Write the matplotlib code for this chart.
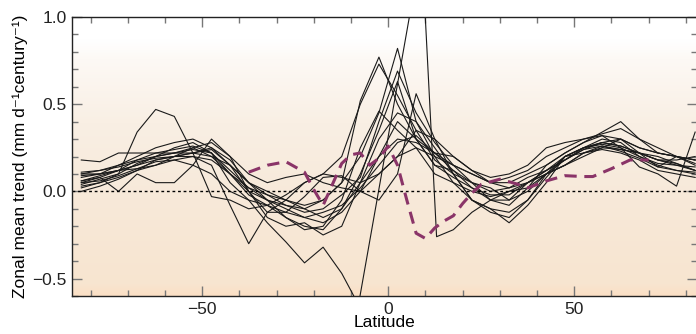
import numpy as np
import matplotlib
matplotlib.use('Agg')
import matplotlib.pyplot as plt
from matplotlib.colors import LinearSegmentedColormap
from matplotlib.ticker import MultipleLocator

plt.rcParams['font.family'] = ['Liberation Sans', 'DejaVu Sans']

# common 5 degree grid used by most models
lats = np.arange(-82.5, 83, 5)

models = [
    [0.03, 0.05, 0.10, 0.34, 0.47, 0.43, 0.22, -0.03, -0.05, -0.10, -0.08, -0.02, 0.05, 0.10, 0.20, 0.50, 0.73, 0.55, 0.35, 0.18, 0.10, 0.05, 0.02, -0.05, 0.00, 0.10, 0.15, 0.20, 0.25, 0.30, 0.25, 0.22, 0.20, 0.18],
    [0.18, 0.17, 0.22, 0.22, 0.22, 0.22, 0.22, 0.20, 0.15, 0.05, -0.05, -0.08, -0.10, -0.05, 0.05, 0.20, 0.45, 0.82, 0.40, 0.20, 0.15, 0.10, 0.05, 0.08, 0.12, 0.20, 0.25, 0.30, 0.33, 0.36, 0.30, 0.22, 0.20, 0.18],
    [0.05, 0.08, 0.00, 0.10, 0.05, 0.05, 0.15, 0.30, 0.20, 0.00, -0.12, -0.12, -0.03, 0.08, 0.09, 0.00, -0.05, 0.10, 0.56, 0.30, 0.10, -0.05, -0.10, -0.18, -0.08, 0.05, 0.20, 0.25, 0.28, 0.30, 0.22, 0.14, 0.20, 0.16],
    [0.08, 0.10, 0.15, 0.20, 0.25, 0.28, 0.30, 0.25, 0.15, 0.05, 0.00, -0.05, -0.08, -0.05, 0.05, 0.52, 0.77, 0.50, 0.30, 0.22, 0.15, 0.10, 0.05, 0.05, 0.10, 0.15, 0.22, 0.28, 0.34, 0.40, 0.30, 0.25, 0.20, 0.15],
    [0.06, 0.08, 0.12, 0.18, 0.22, 0.24, 0.26, 0.22, 0.10, -0.02, -0.08, -0.15, -0.20, -0.22, -0.10, 0.10, 0.35, 0.63, 0.30, 0.15, 0.12, 0.05, -0.05, -0.05, 0.05, 0.12, 0.18, 0.24, 0.28, 0.26, 0.22, 0.18, 0.18, 0.20],
    [0.02, 0.05, 0.08, 0.12, 0.15, 0.18, 0.20, 0.15, -0.08, -0.30, -0.12, -0.05, 0.05, 0.10, 0.08, 0.05, 0.10, 0.20, 0.25, 0.20, 0.05, -0.05, -0.10, -0.12, -0.05, 0.08, 0.20, 0.25, 0.30, 0.28, 0.20, 0.15, 0.12, 0.10],
    [0.10, 0.12, 0.15, 0.18, 0.20, 0.22, 0.24, 0.22, 0.12, 0.02, -0.02, -0.05, -0.10, -0.15, -0.10, 0.05, 0.20, 0.30, 0.28, 0.22, 0.20, 0.12, 0.05, 0.02, 0.08, 0.12, 0.18, 0.25, 0.27, 0.25, 0.20, 0.16, 0.15, 0.14],
    [0.04, 0.07, 0.10, 0.16, 0.20, 0.22, 0.25, 0.20, 0.10, 0.00, -0.05, -0.15, -0.22, -0.20, -0.05, 0.25, 0.46, 0.35, 0.25, 0.10, 0.05, 0.00, -0.03, 0.00, 0.02, 0.10, 0.15, 0.22, 0.26, 0.24, 0.22, 0.18, 0.16, 0.12],
    [0.06, 0.09, 0.12, 0.15, 0.18, 0.20, 0.22, 0.24, 0.15, 0.00, -0.15, -0.20, -0.18, -0.25, -0.20, 0.05, 0.30, 0.45, 0.40, 0.25, 0.10, -0.05, -0.12, -0.15, -0.05, 0.10, 0.20, 0.22, 0.24, 0.22, 0.18, 0.12, 0.10, 0.08],
    [0.09, 0.10, 0.12, 0.13, 0.15, 0.20, 0.25, 0.28, 0.20, 0.10, 0.05, 0.08, 0.10, 0.05, 0.02, 0.00, 0.10, 0.20, 0.35, 0.30, 0.20, 0.12, 0.08, 0.10, 0.15, 0.25, 0.28, 0.30, 0.32, 0.30, 0.25, 0.22, 0.20, 0.18],
    [0.00, 0.03, 0.07, 0.12, 0.18, 0.20, 0.22, 0.25, 0.18, 0.05, -0.02, -0.08, -0.12, -0.10, -0.02, 0.08, 0.40, 0.69, 0.45, 0.28, 0.15, 0.05, 0.00, 0.02, 0.05, 0.10, 0.15, 0.22, 0.25, 0.24, 0.22, 0.20, 0.16, 0.12],
    [0.11, 0.12, 0.14, 0.17, 0.19, 0.20, 0.20, 0.18, 0.10, 0.02, -0.05, -0.10, -0.15, -0.12, -0.08, 0.02, 0.15, 0.28, 0.32, 0.22, 0.12, 0.02, -0.05, -0.08, 0.02, 0.15, 0.22, 0.28, 0.32, 0.25, 0.14, 0.10, 0.03, 0.34],
    [0.05, 0.06, 0.09, 0.13, 0.17, 0.18, 0.15, 0.10, 0.00, -0.05, -0.08, -0.12, -0.15, -0.18, -0.12, 0.00, 0.20, 0.40, 0.30, 0.15, 0.08, 0.02, -0.02, -0.02, 0.05, 0.10, 0.18, 0.24, 0.26, 0.23, 0.19, 0.14, 0.12, 0.11],
]

# one model on its own grid (deep tropical dip and spike)
lats_odd = [-82.5, -77.5, -72.5, -67.5, -62.5, -57.5, -52.5, -47.5, -42.5, -37.5, -32.5,
            -27.5, -22.5, -17.5, -12.5, -8, 9, 13, 17.5, 22.5, 27.5, 32.5, 37.5, 42.5,
            47.5, 52.5, 57.5, 62.5, 67.5, 72.5, 77.5, 82.5]
model_odd = [0.10, 0.10, 0.12, 0.15, 0.20, 0.25, 0.28, 0.22, 0.05, -0.05, -0.18, -0.29, -0.41,
             -0.32, -0.47, -0.65, 1.40, -0.26, -0.22, -0.12, -0.05, 0.00, 0.05, 0.12, 0.20,
             0.25, 0.28, 0.26, 0.22, 0.18, 0.15, 0.12]

# observations
obs_lat = [-37.5, -32.5, -27.5, -22.5, -20, -17.5, -15, -12.5, -10, -7.5, -5, -2.5, 0, 2.5,
           5, 7.5, 10, 12.5, 15, 17.5, 20, 22.5, 25, 30, 35, 37.5, 42.5, 47.5, 52.5, 55, 60,
           65, 70]
obs_val = [0.11, 0.15, 0.17, 0.11, 0.01, -0.08, 0.04, 0.16, 0.21, 0.22, 0.15, 0.19, 0.26, 0.15,
           -0.05, -0.24, -0.27, -0.21, -0.17, -0.14, -0.07, -0.01, 0.04, 0.07, 0.04, 0.02, 0.06,
           0.09, 0.085, 0.085, 0.13, 0.18, 0.18]

fig = plt.figure(figsize=(6.96, 3.34), dpi=100)
ax = fig.add_axes([72 / 696, 1 - 296 / 334, 625 / 696, 279 / 334])
ax.set_xlim(-85, 83)
ax.set_ylim(-0.6, 1.0)

# background wash: white on top, peach at the bottom
cmap = LinearSegmentedColormap.from_list('wash', [
    (0.0, '#fbdfc4'), (0.04, '#f8e5d0'), (0.35, '#f7e9d9'),
    (0.62, '#f9efe4'), (0.85, '#fdf9f5'), (0.92, '#ffffff'), (1.0, '#ffffff')])
grad = np.linspace(0, 1, 256).reshape(-1, 1)
ax.imshow(grad, cmap=cmap, origin='lower', aspect='auto',
          extent=[-85, 83, -0.6, 1.0], zorder=0)

for m in models:
    ax.plot(lats, m, color='#1a1a1a', lw=0.8, zorder=2)
ax.plot(lats_odd, model_odd, color='#1a1a1a', lw=0.8, zorder=2)
ax.plot(obs_lat, obs_val, color='#8a3468', lw=2.2, dashes=(4, 2.5), zorder=3)
ax.axhline(0, color='black', lw=1, ls=(0, (2, 2)), zorder=2.5)

ax.xaxis.set_major_locator(MultipleLocator(50))
ax.xaxis.set_minor_locator(MultipleLocator(10))
ax.yaxis.set_major_locator(MultipleLocator(0.5))
ax.yaxis.set_minor_locator(MultipleLocator(0.1))
ax.yaxis.set_major_formatter(lambda v, p: f'{v:.1f}'.replace('-', '\u2212'))
ax.tick_params(which='both', direction='in', top=True, right=True, color='#777777',
               labelsize=12.5, labelcolor='#222222')
ax.tick_params(which='major', length=7, width=1, pad=4)
ax.tick_params(which='minor', length=4, width=1)
for s in ax.spines.values():
    s.set_linewidth(1)
    s.set_color('#222222')

ax.set_xlabel('Latitude', fontsize=12.5, labelpad=-1)
ax.set_ylabel('Zonal mean trend (mm d\u207b\u00b9century\u207b\u00b9)', fontsize=12.5, labelpad=3)

fig.savefig('out.png', dpi=100)
